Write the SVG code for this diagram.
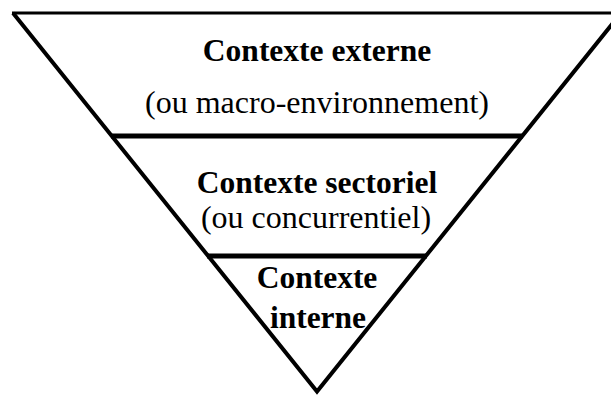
<svg xmlns="http://www.w3.org/2000/svg" width="611" height="396" viewBox="0 0 611 396">
  <style>
    .edge { fill: none; stroke: #000; stroke-linejoin: miter; stroke-miterlimit: 10; }
    .div { stroke: #000; stroke-width: 5; }
    text { font-family: "Liberation Serif", "Times New Roman", serif; fill: #000; text-anchor: middle; }
    .b { font-weight: bold; font-size: 31.5px; }
    .r { font-size: 32px; }
  </style>
  <rect width="611" height="396" fill="#fff"/>
  <g id="pyramid">
    <line x1="12" y1="13" x2="611" y2="13" stroke="#000" stroke-width="3"/>
    <polyline class="edge" stroke-width="4" points="13,13 317,391.5 621,13"/>
  </g>
  <g id="level-externe">
    <text class="b" x="317" y="61">Contexte externe</text>
    <text class="r" x="317" y="113">(ou macro-environnement)</text>
  </g>
  <g id="level-sectoriel">
    <line class="div" x1="111" y1="136" x2="523" y2="136"/>
    <text class="b" x="317" y="193">Contexte sectoriel</text>
    <text class="r" x="316" y="228">(ou concurrentiel)</text>
  </g>
  <g id="level-interne">
    <line class="div" x1="207" y1="256" x2="427" y2="256"/>
    <text class="b" x="317" y="288">Contexte</text>
    <text class="b" x="318" y="328">interne</text>
  </g>
</svg>
